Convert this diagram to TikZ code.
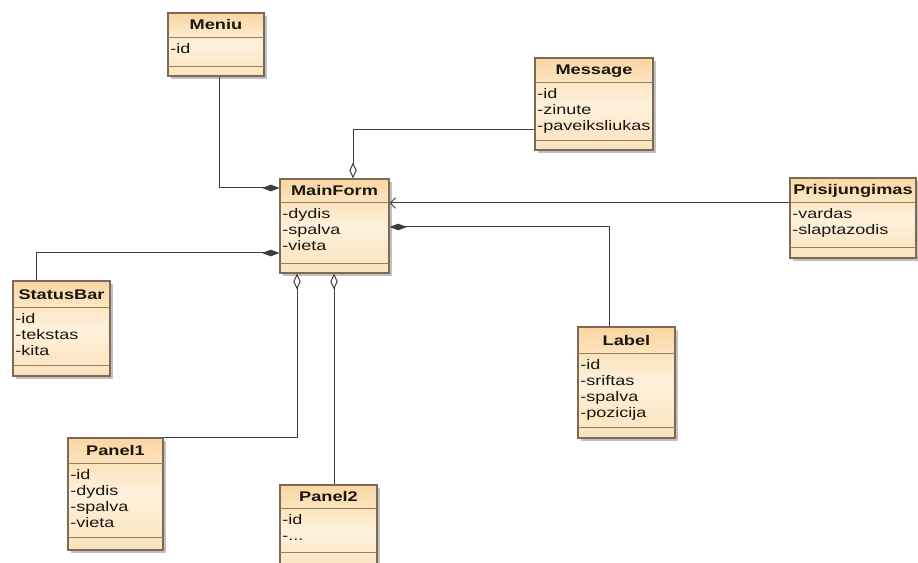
\documentclass[tikz,border=0pt]{standalone}
\usepackage{fontspec}
\setmainfont{Liberation Sans}[FakeStretch=1.3]
\usetikzlibrary{arrows.meta,fit,shadows}

\definecolor{boxtop}{RGB}{250,214,162}
\definecolor{boxmid}{RGB}{254,241,220}
\definecolor{boxbot}{RGB}{251,226,188}
\definecolor{boxline}{RGB}{125,106,84}
\definecolor{sepline}{RGB}{150,128,100}
\definecolor{wire}{RGB}{62,62,62}
\definecolor{ink}{RGB}{26,22,18}

\tikzset{
  classbox/.style={draw=boxline, line width=0.8pt, inner sep=0pt,
    top color=boxtop, bottom color=boxbot, middle color=boxmid,
    drop shadow={shadow xshift=2.2pt, shadow yshift=-2.2pt, fill=black!40, opacity=0.6}},
  compline/.style={draw=sepline, line width=0.7pt},
  classtitle/.style={inner sep=0pt, text height=7.5pt, text depth=0pt, text=ink,
    font=\fontsize{10.5}{12}\selectfont\bfseries},
  classattr/.style={inner sep=0pt, anchor=north west, align=left, text=ink,
    font=\fontsize{10.4}{12}\selectfont},
  link/.style={draw=wire, line width=0.75pt},
  comp/.style={link, -{Diamond[length=13pt, width=5pt]}},
  aggr/.style={link, -{Diamond[open, length=12pt, width=5.5pt]}},
  navi/.style={link, -{Straight Barb[length=4pt, width=8pt]}}
}

% name, left, top, right, bottom, first separator, second separator, title, attributes
\newcommand\umlclass[9]{%
  \node[classbox, fit={(#2,#3) (#4,#5)}] (#1) {};
  \draw[compline] (#2,#6) -- (#4,#6) (#2,#7) -- (#4,#7);
  \node[classtitle] at ({(#2+#4)/2},{(#3+#6)/2}) {#8};
  \node[classattr] at (#2+2,#6+5.5) {#9};
}

\begin{document}
\begin{tikzpicture}[x=0.75pt, y=-0.75pt]
  \clip (0,0) rectangle (918,563);
  \fill[white] (0,0) rectangle (918,563);

  \umlclass{Meniu}{168}{13}{264}{76}{37}{66}{Meniu}{\strut-id}
  \umlclass{Message}{535}{58}{653}{150}{82}{140}{Message}
    {\strut-id\\\strut-zinute\\\strut-paveiksliukas}
  \umlclass{MainForm}{280}{179}{389}{273}{202}{263}{MainForm}
    {\strut-dydis\\\strut-spalva\\\strut-vieta}
  \umlclass{Prisijungimas}{790}{178}{916}{258}{202}{247}{Prisijungimas}
    {\strut-vardas\\\strut-slaptazodis}
  \umlclass{StatusBar}{13}{281}{110}{376}{307}{365}{StatusBar}
    {\strut-id\\\strut-tekstas\\\strut-kita}
  \umlclass{Label}{578}{327}{675}{438}{353}{427}{Label}
    {\strut-id\\\strut-sriftas\\\strut-spalva\\\strut-pozicija}
  \umlclass{Panel1}{68}{438}{163}{550}{463}{537}{Panel1}
    {\strut-id\\\strut-dydis\\\strut-spalva\\\strut-vieta}
  \umlclass{Panel2}{280}{485}{377}{575}{508}{552}{Panel2}
    {\strut-id\\\strut-...}

  % associations toward the main form
  \draw[comp] (Meniu.south -| 219,0) |- (MainForm.west |- 0,188);
  \draw[aggr] (Message.west |- 0,130) -| (MainForm.north -| 353,0);
  \draw[navi] (Prisijungimas.west |- 0,203) -- (MainForm.east |- 0,203);
  \draw[comp] (Label.north -| 609,0) |- (MainForm.east |- 0,227);
  \draw[comp] (StatusBar.north -| 36,0) |- (MainForm.west |- 0,253);
  \draw[aggr] (Panel1.north east) -| (MainForm.south -| 297,0);
  \draw[aggr] (Panel2.north -| 334,0) -- (MainForm.south -| 334,0);
\end{tikzpicture}
\end{document}
